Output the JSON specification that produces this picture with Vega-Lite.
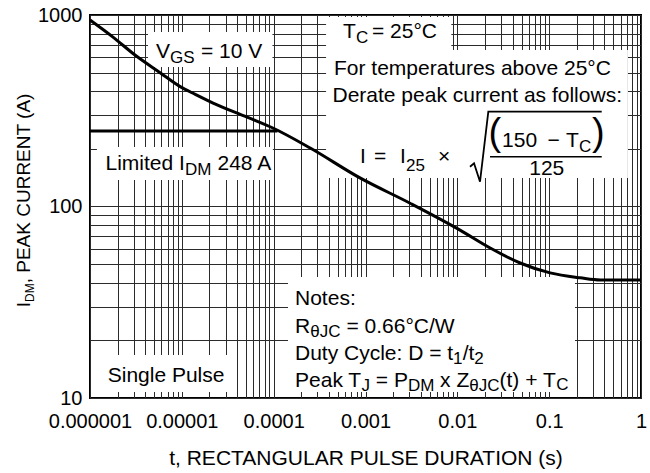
{
  "$schema": "https://vega.github.io/schema/vega-lite/v6.json",
  "width": 551,
  "height": 383,
  "autosize": {"type": "none"},
  "padding": {"left": 90, "top": 15, "right": 9, "bottom": 75},
  "background": "white",
  "config": {
    "view": {"stroke": "black", "strokeWidth": 2},
    "font": "Liberation Sans"
  },
  "datasets": {
    "curve": [
      {"s": "c", "x": 1e-6, "y": 942},
      {"s": "c", "x": 1.78e-6, "y": 767},
      {"s": "c", "x": 3.09e-6, "y": 618},
      {"s": "c", "x": 5.8e-6, "y": 500},
      {"s": "c", "x": 9.5e-6, "y": 424},
      {"s": "c", "x": 1.4e-5, "y": 385},
      {"s": "c", "x": 2.19e-5, "y": 347},
      {"s": "c", "x": 5.13e-5, "y": 293},
      {"s": "c", "x": 9.8e-5, "y": 257},
      {"s": "c", "x": 2.5e-4, "y": 202},
      {"s": "c", "x": 8.7e-4, "y": 141},
      {"s": "c", "x": 3.06e-3, "y": 104},
      {"s": "c", "x": 0.0107, "y": 75.3},
      {"s": "c", "x": 0.0228, "y": 60.7},
      {"s": "c", "x": 0.0483, "y": 50.7},
      {"s": "c", "x": 0.1025, "y": 45.0},
      {"s": "c", "x": 0.218, "y": 42.4},
      {"s": "c", "x": 0.36, "y": 41.3},
      {"s": "c", "x": 1, "y": 41.3},
      {"s": "l", "x": 1e-6, "y": 248},
      {"s": "l", "x": 1.1e-4, "y": 248}
    ],
    "boxes": [
      {"x": 4.28e-6, "x2": 9.7e-5, "y": 815, "y2": 535},
      {"x": 3.72e-4, "x2": 8.6e-3, "y": 976, "y2": 656.6},
      {"x": 3.72e-4, "x2": 0.72, "y": 656.6, "y2": 140.9},
      {"x": 1.19e-6, "x2": 9.8e-5, "y": 204.5, "y2": 137.5},
      {"x": 1.038e-6, "x2": 3.43e-5, "y": 16.77, "y2": 10.75},
      {"x": 1.433e-4, "x2": 0.191, "y": 42.85, "y2": 10.75}
    ],
    "txt": [
      {"x": 5.232e-6, "y": 594.1, "t": "V"},
      {"x": 1.617e-5, "y": 594.1, "t": "= 10 V"},
      {"x": 1.475e-6, "y": 155.1, "t": "Limited I"},
      {"x": 2.445e-5, "y": 155.1, "t": "248 A"},
      {"x": 5.69e-4, "y": 755.6, "t": "T"},
      {"x": 1.177e-3, "y": 755.6, "t": "= 25°C"},
      {"x": 4.54e-4, "y": 486.1, "t": "For temperatures above 25°C"},
      {"x": 4.371e-4, "y": 352.5, "t": "Derate peak current as follows:"},
      {"x": 8.714e-4, "y": 168.1, "t": "I"},
      {"x": 1.238e-3, "y": 168.1, "t": "="},
      {"x": 2.375e-3, "y": 168.1, "t": "I"},
      {"x": 6.161e-3, "y": 168.1, "t": "×"},
      {"x": 0.03066, "y": 205.3, "t": "150"},
      {"x": 0.09596, "y": 205.3, "t": "−"},
      {"x": 0.1527, "y": 205.3, "t": "T"},
      {"x": 0.06064, "y": 146.0, "t": "125"},
      {"x": 1.708e-4, "y": 30.59, "t": "Notes:"},
      {"x": 1.708e-4, "y": 21.77, "t": "R"},
      {"x": 6.209e-4, "y": 21.77, "t": "= 0.66°C/W"},
      {"x": 1.708e-4, "y": 15.79, "t": "Duty Cycle: D = t"},
      {"x": 0.01142, "y": 15.79, "t": "/t"},
      {"x": 1.708e-4, "y": 11.455, "t": "Peak T"},
      {"x": 1.295e-3, "y": 11.455, "t": "= P"},
      {"x": 6.495e-3, "y": 11.455, "t": "x Z"},
      {"x": 0.0288, "y": 11.455, "t": "(t) + T"},
      {"x": 1.559e-6, "y": 12.17, "t": "Single Pulse"}
    ],
    "sub": [
      {"x": 7.435e-6, "y": 559.5, "t": "GS"},
      {"x": 1.083e-5, "y": 146.0, "t": "DM"},
      {"x": 7.882e-4, "y": 711.6, "t": "C"},
      {"x": 2.761e-3, "y": 153.8, "t": "25"},
      {"x": 0.2113, "y": 193.3, "t": "C"},
      {"x": 2.5e-4, "y": 20.75, "t": "θJC"},
      {"x": 8.995e-3, "y": 15.05, "t": "1"},
      {"x": 0.01531, "y": 15.05, "t": "2"},
      {"x": 9.049e-4, "y": 10.88, "t": "J"},
      {"x": 2.895e-3, "y": 10.88, "t": "DM"},
      {"x": 0.0135, "y": 10.88, "t": "θJC"},
      {"x": 0.1191, "y": 11.01, "t": "C"}
    ],
    "parens": [
      {"x": 0.02185, "y": 209.5, "t": "("},
      {"x": 0.2928, "y": 209.5, "t": ")"}
    ],
    "frac": [
      {"x": 0.02269, "x2": 0.3735, "y": 182.0}
    ],
    "rad": [
      {"x": 0.01374, "y": 161.4},
      {"x": 0.0152, "y": 168.1},
      {"x": 0.01766, "y": 134.8},
      {"x": 0.02175, "y": 312.6},
      {"x": 0.3735, "y": 312.6}
    ],
    "yt": [
      {"x": 2.221e-7, "y": 29.76, "t": "I"},
      {"x": 2.221e-7, "y": 39.72, "t": ", PEAK CURRENT (A)"}
    ],
    "yts": [
      {"x": 2.456e-7, "y": 31.71, "t": "DM"}
    ]
  },
  "encoding": {
    "x": {
      "field": "x",
      "type": "quantitative",
      "scale": {"type": "log", "domain": [1e-6, 1], "nice": false},
      "axis": {
        "values": [1e-6, 2e-6, 3e-6, 4e-6, 5e-6, 6e-6, 7e-6, 8e-6, 9e-6,
                   1e-5, 2e-5, 3e-5, 4e-5, 5e-5, 6e-5, 7e-5, 8e-5, 9e-5,
                   1e-4, 2e-4, 3e-4, 4e-4, 5e-4, 6e-4, 7e-4, 8e-4, 9e-4,
                   1e-3, 2e-3, 3e-3, 4e-3, 5e-3, 6e-3, 7e-3, 8e-3, 9e-3,
                   0.01, 0.02, 0.03, 0.04, 0.05, 0.06, 0.07, 0.08, 0.09,
                   0.1, 0.2, 0.3, 0.4, 0.5, 0.6, 0.7, 0.8, 0.9, 1],
        "grid": true,
        "gridColor": "#2b2b2b",
        "gridWidth": 1,
        "gridOpacity": 1,
        "domain": false,
        "ticks": false,
        "tickSize": 0,
        "labelExpr": "abs(log(datum.value)/LN10 - round(log(datum.value)/LN10)) < 0.001 ? format(datum.value, '.6~f') : ''",
        "labelFlush": false,
        "labelOverlap": false,
        "labelFont": "Liberation Sans",
        "labelFontSize": 20,
        "labelColor": "black",
        "labelPadding": 13,
        "title": "t, RECTANGULAR PULSE DURATION (s)",
        "titleFont": "Liberation Sans",
        "titleFontSize": 21,
        "titleFontWeight": "normal",
        "titleColor": "black",
        "titlePadding": 16
      }
    },
    "y": {
      "field": "y",
      "type": "quantitative",
      "scale": {"type": "log", "domain": [10, 1000], "nice": false},
      "axis": {
        "values": [10, 20, 30, 40, 50, 60, 70, 80, 90,
                   100, 200, 300, 400, 500, 600, 700, 800, 900, 1000],
        "grid": true,
        "gridColor": "#2b2b2b",
        "gridWidth": 1,
        "gridOpacity": 1,
        "domain": false,
        "ticks": false,
        "tickSize": 0,
        "labelExpr": "abs(log(datum.value)/LN10 - round(log(datum.value)/LN10)) < 0.001 ? format(datum.value, 'd') : ''",
        "labelFlush": false,
        "labelOverlap": false,
        "labelFont": "Liberation Sans",
        "labelFontSize": 20,
        "labelColor": "black",
        "labelPadding": 8,
        "title": null
      }
    }
  },
  "layer": [
    {
      "data": {"name": "boxes"},
      "mark": {"type": "rect", "fill": "white", "strokeWidth": 0},
      "encoding": {"x2": {"field": "x2"}, "y2": {"field": "y2"}}
    },
    {
      "data": {"name": "curve"},
      "mark": {"type": "line", "color": "black", "strokeWidth": 3, "interpolate": "monotone"},
      "encoding": {"detail": {"field": "s"}}
    },
    {
      "data": {"name": "txt"},
      "mark": {"type": "text", "align": "left", "baseline": "alphabetic", "fontSize": 21, "font": "Liberation Sans", "color": "black"},
      "encoding": {"text": {"field": "t"}}
    },
    {
      "data": {"name": "sub"},
      "mark": {"type": "text", "align": "left", "baseline": "alphabetic", "fontSize": 17, "font": "Liberation Sans", "color": "black"},
      "encoding": {"text": {"field": "t"}}
    },
    {
      "data": {"name": "parens"},
      "mark": {"type": "text", "align": "left", "baseline": "alphabetic", "fontSize": 38, "font": "Liberation Sans", "color": "black"},
      "encoding": {"text": {"field": "t"}}
    },
    {
      "data": {"name": "frac"},
      "mark": {"type": "rule", "color": "black", "strokeWidth": 1.5},
      "encoding": {"x2": {"field": "x2"}}
    },
    {
      "data": {"name": "rad"},
      "mark": {"type": "line", "color": "black", "strokeWidth": 1.8, "interpolate": "linear"},
      "encoding": {}
    },
    {
      "data": {"name": "yt"},
      "mark": {"type": "text", "align": "left", "baseline": "alphabetic", "angle": 270, "fontSize": 19, "font": "Liberation Sans", "color": "black"},
      "encoding": {"text": {"field": "t"}}
    },
    {
      "data": {"name": "yts"},
      "mark": {"type": "text", "align": "left", "baseline": "alphabetic", "angle": 270, "fontSize": 12, "font": "Liberation Sans", "color": "black"},
      "encoding": {"text": {"field": "t"}}
    }
  ]
}
